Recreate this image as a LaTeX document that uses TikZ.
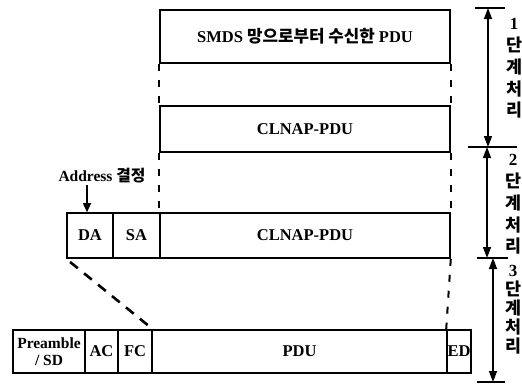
\documentclass[tikz,border=0pt]{standalone}
\usepackage{fontspec}
\setmainfont{Liberation Serif}
\newfontfamily\kr{Noto Sans CJK KR}[Scale=1.02]
\usetikzlibrary{arrows.meta,calc}
\tikzset{
  box/.style={draw, line width=1.6pt, inner sep=0pt, font=\bfseries\fontsize{16.5}{18}\selectfont},
  guide/.style={line width=2pt, dash pattern=on 7pt off 9pt},
  diag/.style={line width=2.6pt, dash pattern=on 10pt off 8pt},
  dimarrow/.style={line width=1.4pt, {Triangle[length=11pt,width=8pt]}-{Triangle[length=11pt,width=8pt]}},
  tickline/.style={line width=1.4pt},
  lbl/.style={inner sep=0pt, align=center, font=\bfseries\fontsize{17}{21.75}\selectfont},
}
\begin{document}
\begin{tikzpicture}[x=1pt,y=-1pt]
\useasboundingbox (0,0) rectangle (522,386);
% boxes
\node[box, minimum width=290pt, minimum height=53pt] (pdu1) at (305,36.5) {SMDS {\kr 망으로부터 수신한} PDU};
\node[box, minimum width=290pt, minimum height=46pt] (cl1) at (305,129) {CLNAP-PDU};
\node[box, minimum width=46pt, minimum height=45pt] (da) at (90,235.5) {DA};
\node[box, minimum width=47pt, minimum height=45pt] (sa) at (136.5,235.5) {SA};
\node[box, minimum width=290pt, minimum height=45pt] (cl2) at (305,235.5) {CLNAP-PDU};
\node[box, minimum width=72pt, minimum height=43pt, font=\bfseries\fontsize{15.5}{17}\selectfont, align=center] (pre) at (49,351.5) {Preamble\\/ SD};
\node[box, minimum width=33pt, minimum height=43pt] (ac) at (101.5,351.5) {AC};
\node[box, minimum width=34pt, minimum height=43pt] (fc) at (135,351.5) {FC};
\node[box, minimum width=295pt, minimum height=43pt] (pdu2) at (299.5,351.5) {PDU};
\node[box, minimum width=24pt, minimum height=43pt] (ed) at (459,351.5) {ED};
% guide lines
\draw[guide] (pdu1.south west) -- (cl1.north west);
\draw[guide] (pdu1.south east) -- (cl1.north east);
\draw[guide] (cl1.south west) -- (cl2.north west);
\draw[guide] (cl1.south east) -- (cl2.north east);
\draw[guide] (cl2.south east) -- (ed.north west);
\draw[diag, shorten <=5pt, shorten >=6pt] (da.south west) -- (fc.north east);
% address
\node[inner sep=0pt, font=\bfseries\fontsize{15.5}{17}\selectfont] (addr) at (102,176) {Address {\kr 결정}};
\coordinate (ad) at (87,185);
\draw[line width=1.4pt, -{Triangle[length=9pt,width=8pt]}] (ad) -- (ad |- da.north);
% dimension brackets
\coordinate (k1a) at (475,8);   \coordinate (k1b) at (505,8);
\coordinate (k2a) at (468,147); \coordinate (k2b) at (517,147);
\coordinate (k3a) at (477,258); \coordinate (k3b) at (508,258);
\coordinate (k4a) at (477,382); \coordinate (k4b) at (505,382);
\draw[tickline] (k1a) -- (k1b);
\draw[tickline] (k2a) -- (k2b);
\draw[tickline] (k3a) -- (k3b);
\draw[tickline] (k4a) -- (k4b);
\coordinate (s1a) at (488,8);   \coordinate (s1b) at (488,147);
\coordinate (s2a) at (487,147); \coordinate (s2b) at (487,258);
\coordinate (s3a) at (493,258); \coordinate (s3b) at (493,382);
\draw[dimarrow] (s1a) -- (s1b);
\draw[dimarrow] (s2a) -- (s2b);
\draw[dimarrow] (s3a) -- (s3b);
\node[lbl] (l1) at (514,68.5) {1\\{\kr 단}\\{\kr 계}\\{\kr 처}\\{\kr 리}};
\node[lbl] (l2) at (513,204.5) {2\\{\kr 단}\\{\kr 계}\\{\kr 처}\\{\kr 리}};
\node[lbl, font=\bfseries\fontsize{17}{19}\selectfont] (l3) at (513,310) {3\\{\kr 단}\\{\kr 계}\\{\kr 처}\\{\kr 리}};
\end{tikzpicture}
\end{document}
